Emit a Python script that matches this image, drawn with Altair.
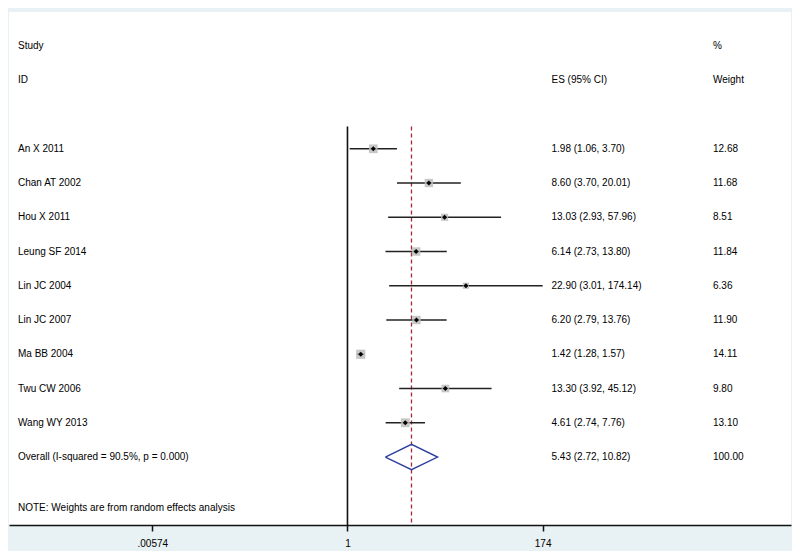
import altair as alt
import pandas as pd

studies = ["An X 2011", "Chan AT 2002", "Hou X 2011", "Leung SF 2014", "Lin JC 2004",
           "Lin JC 2007", "Ma BB 2004", "Twu CW 2006", "Wang WY 2013"]
es = [1.98, 8.60, 13.03, 6.14, 22.90, 6.20, 1.42, 13.30, 4.61]
lo = [1.06, 3.70, 2.93, 2.73, 3.01, 2.79, 1.28, 3.92, 2.74]
hi = [3.70, 20.01, 57.96, 13.80, 174.14, 13.76, 1.57, 45.12, 7.76]
weights = [12.68, 11.68, 8.51, 11.84, 6.36, 11.90, 14.11, 9.80, 13.10]

overall_label = "Overall  (I-squared = 90.5%, p = 0.000)"
overall_es, overall_lo, overall_hi, overall_w = 5.43, 2.72, 10.82, 100.00
note = "NOTE: Weights are from random effects analysis"

tick_vals = [0.00574, 1, 174]
tick_labels = [".00574", "1", "174"]

first_row = 3
rows = list(range(first_row, first_row + len(studies)))
overall_row = first_row + len(studies)
note_row = overall_row + 1.5

df = pd.DataFrame({
    "study": studies, "es": es, "lo": lo, "hi": hi, "w": weights, "row": rows,
    "es_txt": [f"{e:.2f} ({l:.2f}, {h:.2f})" for e, l, h in zip(es, lo, hi)],
    "w_txt": [f"{w:.2f}" for w in weights],
})

left_txt = pd.DataFrame({
    "row": [0, 1] + rows + [overall_row, note_row],
    "label": ["Study", "ID"] + studies + [overall_label, note],
})
es_txt = pd.DataFrame({
    "row": [1] + rows + [overall_row],
    "label": ["ES (95% CI)"] + list(df["es_txt"]) + [f"{overall_es:.2f} ({overall_lo:.2f}, {overall_hi:.2f})"],
})
w_txt = pd.DataFrame({
    "row": [0, 1] + rows + [overall_row],
    "label": ["%", "Weight"] + list(df["w_txt"]) + [f"{overall_w:.2f}"],
})

half_h = 0.37
diamond = pd.DataFrame({
    "x": [overall_lo, overall_es, overall_hi, overall_es, overall_lo],
    "y": [overall_row, overall_row - half_h, overall_row, overall_row + half_h, overall_row],
    "o": [0, 1, 2, 3, 4],
})

lines = pd.DataFrame({"x": [1, overall_es], "kind": ["null", "overall"], "y": [2.35, 2.35]})

label_expr = " : ".join(
    f"abs(datum.value - {v}) < {v * 1e-3} ? '{l}'" for v, l in zip(tick_vals, tick_labels)
) + " : ''"

xscale = alt.Scale(type="log", domain=[1.30e-4, 1.236e5], nice=False)
xaxis = alt.Axis(values=tick_vals, labelExpr=label_expr, grid=False, domainColor="#111",
                 domainWidth=1.5, tickColor="#111", tickWidth=1.5, tickSize=6,
                 labelFontSize=10, labelColor="#000", labelFont="Liberation Sans",
                 labelPadding=7, title=None)
yscale = alt.Scale(domain=[-0.993, 13.985], reverse=True, nice=False, zero=False)


def X(field):
    return alt.X(field, type="quantitative", scale=xscale, axis=xaxis, title=None)


def Y(field):
    return alt.Y(field, type="quantitative", scale=yscale, axis=None, title=None)


ci = alt.Chart(df).mark_rule(color="#222", strokeWidth=1.5).encode(
    x=X("lo"), x2="hi", y=Y("row"))

boxes = alt.Chart(df).mark_square(color="#bdbdbd", opacity=0.85).encode(
    x=X("es"), y=Y("row"),
    size=alt.Size("w:Q", scale=alt.Scale(domain=[0, 15], range=[0, 90]), legend=None))

pts = alt.Chart(df).mark_point(shape="diamond", filled=True, color="#000", size=26, opacity=1).encode(
    x=X("es"), y=Y("row"))

null_line = alt.Chart(lines[lines.kind == "null"]).mark_rule(color="#111", strokeWidth=1.6).encode(
    x=X("x"), y=Y("y"), y2=alt.value(513))

ov_line = alt.Chart(lines[lines.kind == "overall"]).mark_rule(
    color="#a3283c", strokeWidth=1.3, strokeDash=[4, 3]).encode(
    x=X("x"), y=Y("y"), y2=alt.value(513))

dia = alt.Chart(diamond).mark_line(color="#2c3f9e", strokeWidth=1.4).encode(
    x=X("x"), y=Y("y"), order="o:Q")

txt_style = dict(align="left", baseline="middle", fontSize=10, font="Liberation Sans", color="#000")

t_left = alt.Chart(left_txt).mark_text(**txt_style).encode(
    x=alt.value(9), y=Y("row"), text="label:N")
t_es = alt.Chart(es_txt).mark_text(**txt_style).encode(
    x=alt.value(542.5), y=Y("row"), text="label:N")
t_w = alt.Chart(w_txt).mark_text(**txt_style).encode(
    x=alt.value(704), y=Y("row"), text="label:N")

chart = alt.layer(null_line, ov_line, ci, boxes, pts, dia, t_left, t_es, t_w).properties(
    width=782, height=513,
    autosize=alt.AutoSizeParams(type="none"),
    padding={"left": 1, "top": 4, "right": 1, "bottom": 26},
    background="#e8f1f3",
).configure_view(fill="white", stroke=None)

chart.save("out.html", embed_options={"renderer": "svg", "actions": False})
